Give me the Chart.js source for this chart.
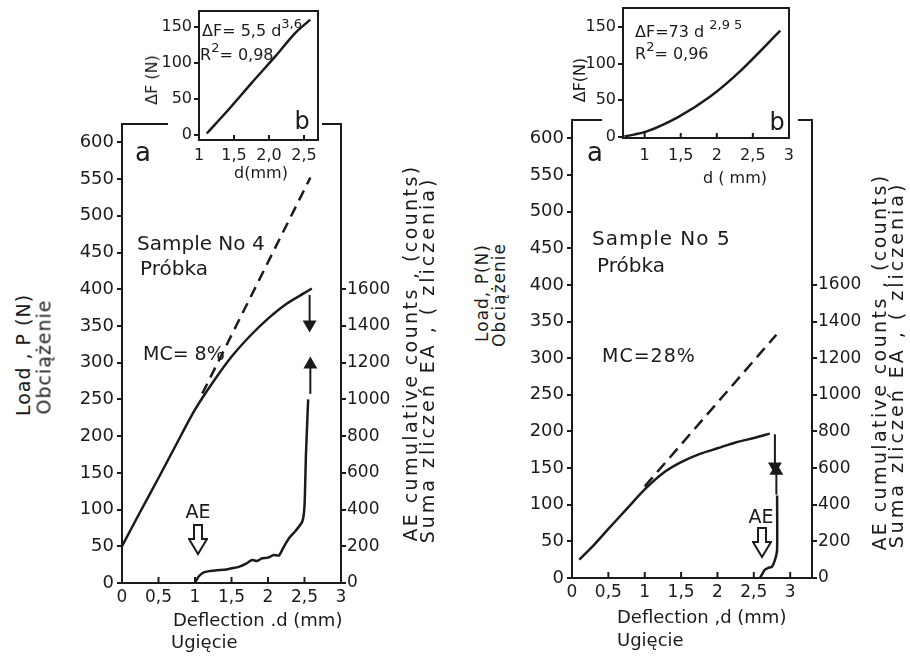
<!DOCTYPE html>
<html>
<head>
<meta charset="utf-8">
<script src="https://cdn.jsdelivr.net/npm/chart.js@4.4.1/dist/chart.umd.min.js"></script>
<style>
  body { margin: 0; width: 910px; height: 656px; overflow: hidden; position: relative; background: #fff;
         font-family: 'DejaVu Sans', sans-serif; color: #1b1b1b; }
  canvas { position: absolute; }
  .main { z-index: 1; }
  .mask { position: absolute; background: #fff; z-index: 2; }
  .inset { z-index: 3; }
  .t { position: absolute; white-space: nowrap; transform: translateY(-50%); z-index: 4; line-height: 1; }
  .c { transform: translate(-50%, -50%); }
  .rot { position: absolute; white-space: nowrap; transform: translate(-50%, -50%) rotate(-90deg); z-index: 4; line-height: 1; }
  sup { font-size: 13px; vertical-align: 0; position: relative; top: -8px; }
  .aro { position: absolute; z-index: 4; }
</style>
</head>
<body>

<canvas id="main4" class="main" width="360" height="520" style="left:50px;top:104px"></canvas>
<canvas id="main5" class="main" width="370" height="519" style="left:510px;top:100px"></canvas>
<div class="mask" style="left:168px;top:0;width:154px;height:129px"></div>
<div class="mask" style="left:602px;top:0;width:196px;height:124px"></div>
<canvas id="fit4" class="inset" width="164" height="177" style="left:160px;top:-9px"></canvas>
<canvas id="fit5" class="inset" width="222" height="178" style="left:580px;top:-12px"></canvas>

<!-- left panel: sample 4 -->
<div class="rot" style="left:23px;top:355px;font-size:19px;letter-spacing:1px">Load , P (N)</div>
<div class="rot" style="left:44px;top:357px;font-size:19px;letter-spacing:1px">Obciążenie</div>
<div class="rot" style="left:410px;top:353px;font-size:19px;letter-spacing:2.4px">AE cumulative counts , (counts)</div>
<div class="rot" style="left:427px;top:360px;font-size:19px;letter-spacing:3px">Suma zliczeń EA , ( zliczenia)</div>
<div class="t" style="left:173px;top:620px;font-size:18px">Deflection .d (mm)</div>
<div class="t" style="left:171px;top:642px;font-size:18px">Ugięcie</div>
<div class="t c" style="left:143px;top:152px;font-size:26px">a</div>
<div class="t" style="left:137px;top:243px;font-size:20px">Sample No 4</div>
<div class="t" style="left:140px;top:268px;font-size:20px">Próbka</div>
<div class="t" style="left:143px;top:353px;font-size:19px">MC= 8%</div>
<div class="t c" style="left:198px;top:511px;font-size:19px">AE</div>
<svg class="aro" style="left:188px;top:524px" width="20" height="32" viewBox="0 0 20 32"><polygon points="6,1 14,1 14,15 19,15 10,30 1,15 6,15" fill="#fff" stroke="#1b1b1b" stroke-width="2"/></svg>
<div class="rot" style="left:152px;top:80px;font-size:16px">ΔF (N)</div>
<div class="t" style="left:202px;top:31px;font-size:16px">ΔF= 5,5 d<sup>3,6</sup></div>
<div class="t" style="left:200px;top:55px;font-size:16px">R<sup>2</sup>= 0,98</div>
<div class="t c" style="left:302px;top:121px;font-size:24px">b</div>
<div class="t c" style="left:261px;top:173px;font-size:16px">d(mm)</div>

<!-- right panel: sample 5 -->
<div class="rot" style="left:482px;top:293px;font-size:17px;letter-spacing:1px">Load, P(N)</div>
<div class="rot" style="left:499px;top:295px;font-size:17px;letter-spacing:1px">Obciążenie</div>
<div class="rot" style="left:879px;top:362px;font-size:19px;letter-spacing:2.4px">AE cumulative counts , (counts)</div>
<div class="rot" style="left:896px;top:365px;font-size:19px;letter-spacing:3px">Suma zliczeń EA , ( zliczenia)</div>
<div class="t" style="left:617px;top:617px;font-size:18px">Deflection ,d (mm)</div>
<div class="t" style="left:617px;top:640px;font-size:18px">Ugięcie</div>
<div class="t c" style="left:595px;top:152px;font-size:26px">a</div>
<div class="t" style="left:592px;top:238px;font-size:20px;letter-spacing:1px">Sample No 5</div>
<div class="t" style="left:597px;top:265px;font-size:20px">Próbka</div>
<div class="t" style="left:602px;top:355px;font-size:19px;letter-spacing:1px">MC=28%</div>
<div class="t c" style="left:761px;top:516px;font-size:19px">AE</div>
<svg class="aro" style="left:752px;top:527px" width="20" height="32" viewBox="0 0 20 32"><polygon points="6,1 14,1 14,15 19,15 10,30 1,15 6,15" fill="#fff" stroke="#1b1b1b" stroke-width="2"/></svg>
<div class="rot" style="left:580px;top:80px;font-size:16px">ΔF(N)</div>
<div class="t" style="left:635px;top:32px;font-size:16px">ΔF=73 d <sup>2,9 5</sup></div>
<div class="t" style="left:635px;top:54px;font-size:16px">R<sup>2</sup>= 0,96</div>
<div class="t c" style="left:777px;top:122px;font-size:24px">b</div>
<div class="t c" style="left:735px;top:178px;font-size:16px">d ( mm)</div>

<script>
// ── Sample No 4, MC = 8 % ──────────────────────────────────────
const s4LoadD = [0, 0.25, 0.5, 0.75, 1.0, 1.25, 1.5, 1.75, 2.0, 2.25, 2.5, 2.6];
const s4Load  = [50, 97, 143, 190, 236, 274, 308, 336, 360, 380, 395, 401];
const s4DashD = [1.1, 2.58];
const s4Dash  = [258, 552];
const s4AeD   = [1.0, 1.05, 1.12, 1.2, 1.3, 1.4, 1.5, 1.6, 1.7, 1.78, 1.85, 1.92, 2.0, 2.08, 2.15, 2.22, 2.3, 2.38, 2.47, 2.5, 2.52, 2.55];
const s4Ae    = [0, 35, 58, 65, 70, 72, 80, 88, 105, 125, 120, 135, 138, 152, 150, 200, 250, 285, 335, 420, 700, 1000];
const s4DropD = [2.57, 2.57];
const s4Drop  = [392, 352];
const s4RiseD = [2.58, 2.58];
const s4Rise  = [1030, 1190];
// inset b
const s4FitD  = [1.11, 1.42, 1.75, 2.09, 2.37, 2.59];
const s4Fit   = [2, 35, 72, 109, 141, 160];
const s4FitTicks  = [1, 1.5, 2, 2.5];
const s4FitLabels = ['1', '1,5', '2,0', '2,5'];

// ── Sample No 5, MC = 28 % ─────────────────────────────────────
const s5LoadD = [0.1, 0.3, 0.5, 0.75, 1.0, 1.25, 1.5, 1.75, 2.0, 2.25, 2.5, 2.72];
const s5Load  = [25, 45, 67, 94, 121, 143, 158, 169, 177, 185, 191, 197];
const s5DashD = [1.0, 2.81];
const s5Dash  = [125, 332];
const s5AeD   = [2.585, 2.62, 2.65, 2.7, 2.75, 2.79, 2.82, 2.82];
const s5Ae    = [0, 25, 44, 55, 62, 98, 153, 450];
const s5DropD = [2.79, 2.79];
const s5Drop  = [196, 152];
const s5RiseD = [2.81, 2.81];
const s5Rise  = [455, 585];
// inset b
const s5FitD  = [0.72, 1.03, 1.47, 1.9, 2.34, 2.88];
const s5Fit   = [0, 7, 27, 54, 91, 145];
const s5FitTicks = [1, 1.5, 2, 2.5, 3];

// shared tick values
const deflTicks  = [0, 0.5, 1, 1.5, 2, 2.5, 3];
const loadTicks  = [0, 50, 100, 150, 200, 250, 300, 350, 400, 450, 500, 550, 600];
const countTicks = [0, 200, 400, 600, 800, 1000, 1200, 1400, 1600];
const fitTicks   = [0, 50, 100, 150];

const INK = '#1b1b1b';
Chart.defaults.font.family = "'DejaVu Sans', sans-serif";
Chart.defaults.color = INK;

const pts = (xs, ys) => xs.map((x, i) => ({ x, y: ys[i] }));
const comma = v => String(v).replace('.', ',');
const plain = v => String(v);
const fixW = w => s => { s.width = w; };
const fixH = h => s => { s.height = h; };
const setTicks = vals => s => { s.ticks = vals.map(v => ({ value: v })); };

function curve(xs, ys, extra) {
  return Object.assign({ data: pts(xs, ys), showLine: true, borderColor: INK, borderWidth: 2.5,
                         pointRadius: 0, fill: false, tension: 0.3 }, extra);
}
function arrow(xs, ys, axis, rot) {
  return { data: pts(xs, ys), yAxisID: axis, showLine: true, borderColor: INK, borderWidth: 2,
           pointStyle: 'triangle', pointRadius: [0, 6], rotation: rot, backgroundColor: INK, pointBorderColor: INK };
}

// x tick marks in the references point into the plot
const innerTicks = {
  id: 'innerTicks',
  afterDraw(chart, args, opts) {
    const sc = chart.scales.x, ctx = chart.ctx;
    ctx.save();
    ctx.strokeStyle = INK; ctx.lineWidth = 2;
    sc.ticks.forEach(t => {
      const px = sc.getPixelForValue(t.value);
      ctx.beginPath(); ctx.moveTo(px, sc.top); ctx.lineTo(px, sc.top - opts.len); ctx.stroke();
    });
    ctx.restore();
  }
};

const edge = { color: INK, width: 2 };
const outTicks = { drawOnChartArea: false, tickLength: 5, color: INK, lineWidth: 2 };
const noGrid = { display: false, drawTicks: false };

function mainChart(id, xMax, yW, y2W, datasets) {
  return new Chart(document.getElementById(id), {
    type: 'scatter',
    data: { datasets },
    options: {
      responsive: false, animation: false, events: [],
      layout: { padding: { top: 20 } },
      plugins: { legend: { display: false }, tooltip: { enabled: false }, innerTicks: { len: 6 } },
      scales: {
        x: { type: 'linear', min: 0, max: xMax, afterFit: fixH(41), afterBuildTicks: setTicks(deflTicks),
             ticks: { padding: 4, font: { size: 17 }, callback: comma },
             grid: noGrid, border: edge },
        x2: { type: 'linear', position: 'top', min: 0, max: xMax, afterFit: fixH(0),
              ticks: { display: false }, grid: noGrid, border: edge },
        y: { min: 0, max: 625, afterFit: fixW(yW), afterBuildTicks: setTicks(loadTicks),
             ticks: { padding: 3, font: { size: 18 }, callback: plain }, grid: outTicks, border: edge },
        y2: { position: 'right', min: 0, max: 2500, afterFit: fixW(y2W), afterBuildTicks: setTicks(countTicks),
              ticks: { padding: 1, font: { size: 17 }, callback: plain }, grid: outTicks, border: edge }
      }
    },
    plugins: [innerTicks]
  });
}

function insetChart(id, xMin, xMax, yMin, yMax, yW, xPad, xTicks, xLabel, data) {
  return new Chart(document.getElementById(id), {
    type: 'scatter',
    data: { datasets: [curve(data.xs, data.ys)] },
    options: {
      responsive: false, animation: false, events: [],
      layout: { padding: { top: 20 } },
      plugins: { legend: { display: false }, tooltip: { enabled: false }, innerTicks: { len: 5 } },
      scales: {
        x: { type: 'linear', min: xMin, max: xMax, afterFit: fixH(28), afterBuildTicks: setTicks(xTicks),
             ticks: { padding: xPad, font: { size: 16 }, callback: xLabel },
             grid: noGrid, border: edge },
        x2: { type: 'linear', position: 'top', min: xMin, max: xMax, afterFit: fixH(0),
              ticks: { display: false }, grid: noGrid, border: edge },
        y: { min: yMin, max: yMax, afterFit: fixW(yW), afterBuildTicks: setTicks(fitTicks),
             ticks: { padding: 2, font: { size: 16 }, callback: plain }, grid: outTicks, border: edge },
        y2: { position: 'right', min: yMin, max: yMax, afterFit: fixW(6),
              ticks: { display: false }, grid: noGrid, border: edge }
      }
    },
    plugins: [innerTicks]
  });
}

mainChart('main4', 3, 72, 69, [
  curve(s4LoadD, s4Load),
  curve(s4DashD, s4Dash, { borderDash: [11, 7], tension: 0 }),
  curve(s4AeD, s4Ae, { yAxisID: 'y2', tension: 0.2 }),
  arrow(s4DropD, s4Drop, 'y', 180),
  arrow(s4RiseD, s4Rise, 'y2', 0)
]);

mainChart('main5', 3.3, 62, 68, [
  curve(s5LoadD, s5Load),
  curve(s5DashD, s5Dash, { borderDash: [12, 7], tension: 0 }),
  curve(s5AeD, s5Ae, { yAxisID: 'y2', tension: 0.2 }),
  arrow(s5DropD, s5Drop, 'y', 180),
  arrow(s5RiseD, s5Rise, 'y2', 0)
]);

insetChart('fit4', 1, 2.7, -7, 172, 39, 6, s4FitTicks,
  v => s4FitLabels[s4FitTicks.indexOf(v)],
  { xs: s4FitD, ys: s4Fit });

insetChart('fit5', 0.7, 3, -2, 176, 43, 8, s5FitTicks, comma,
  { xs: s5FitD, ys: s5Fit });
</script>
</body>
</html>
